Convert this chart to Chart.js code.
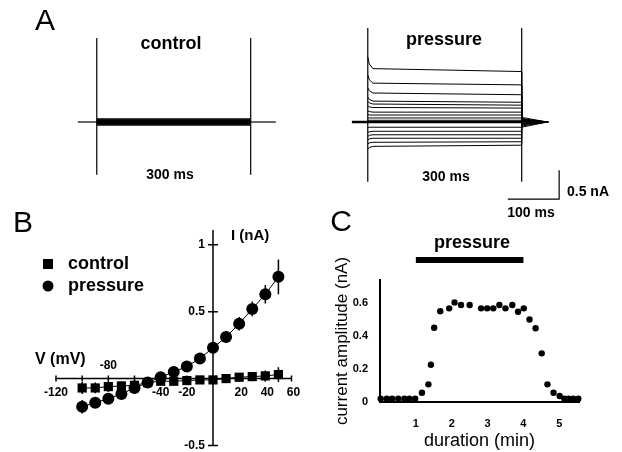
<!DOCTYPE html>
<html>
<head>
<meta charset="utf-8">
<script src="https://cdn.jsdelivr.net/npm/chart.js@4/dist/chart.umd.min.js"></script>
<style>
  html, body { margin: 0; padding: 0; background: #fff; }
  #fig { position: relative; width: 622px; height: 452px; overflow: hidden; background: #fff; }
  #fig canvas { position: absolute; left: 0; top: 0; }
</style>
</head>
<body>
<div id="fig">
  <canvas id="a-control" width="622" height="452"></canvas>
  <canvas id="a-pressure" width="622" height="452"></canvas>
  <canvas id="b-iv" width="622" height="452"></canvas>
  <canvas id="c-time" width="622" height="452"></canvas>
</div>
<script>
'use strict';

// ─── Panel A: current traces (time in ms, current in nA) ─────
const stepOn = 0;
const stepOff = 300;
const controlHold = [-37, 349];
const pressureHold = [-31, 353];
const controlLevels = [0.05, 0.035, 0.02, 0.01, 0, -0.01, -0.02, -0.035, -0.05];
const controlArtifact = [1.45, -0.91];
const pressureOnset  = [1.12, 0.81, 0.59, 0.43, 0.36, 0.28, 0.19, 0.13, 0.07, 0.03, 0, -0.10, -0.18, -0.25, -0.31, -0.38, -0.47];
const pressureAt3ms  = [1.00, 0.73, 0.54, 0.39, 0.33, 0.26, 0.18, 0.12, 0.07, 0.03, 0, -0.09, -0.17, -0.23, -0.29, -0.36, -0.44];
const pressureAt10ms = [0.92, 0.67, 0.50, 0.36, 0.31, 0.25, 0.17, 0.12, 0.07, 0.03, 0, -0.09, -0.16, -0.22, -0.28, -0.35, -0.42];
const pressureSteady = [0.87, 0.64, 0.47, 0.34, 0.29, 0.24, 0.17, 0.12, 0.07, 0.03, 0, -0.09, -0.16, -0.22, -0.28, -0.34, -0.40];
const pressureTail   = [0.08, 0.06, 0.05, 0.04, 0.03, 0.03, 0.02, 0.02, 0.01, 0.005, 0, -0.02, -0.03, -0.04, -0.05, -0.07, -0.09];
const pressureArtifact = [1.62, -1.03];
const scaleBarMs = [273, 373];
const scaleBarNa = [-1.33, -0.83];

// ─── Panel B: I–V relation ────────────────────────────────────
const ivVoltage = [-100, -90, -80, -70, -60, -50, -40, -30, -20, -10, 0, 10, 20, 30, 40, 50];
const ivControl = [-0.07, -0.07, -0.06, -0.055, -0.05, -0.03, -0.02, -0.02, -0.015, -0.01, -0.01, 0, 0.01, 0.015, 0.02, 0.03];
const ivControlErr = [0.045, 0.04, 0.04, 0.035, 0.035, 0.02, 0.02, 0.02, 0.02, 0.02, 0.02, 0.025, 0.03, 0.035, 0.04, 0.055];
const ivPressure = [-0.21, -0.18, -0.15, -0.115, -0.07, -0.03, 0.01, 0.05, 0.09, 0.15, 0.23, 0.31, 0.41, 0.52, 0.63, 0.76];
const ivPressureErr = [0.05, 0.04, 0.03, 0.04, 0.03, 0.02, 0.03, 0.03, 0.03, 0.03, 0.035, 0.045, 0.05, 0.055, 0.07, 0.13];
const ivXLabels = [-120, -80, -40, -20, 20, 40, 60];
const ivXMarks = [-120, -100, -80, -60, -40, -20, 20, 40, 60];
const ivYTicks = [1, 0.5, -0.5];

// ─── Panel C: time course ─────────────────────────────────────
const timeMin = [0.02, 0.19, 0.34, 0.51, 0.68, 0.82, 0.98, 1.17, 1.35, 1.42, 1.51, 1.68, 1.93, 2.08, 2.26, 2.50,
                 2.82, 2.99, 3.16, 3.33, 3.50, 3.69, 3.85, 4.01, 4.17, 4.34, 4.51, 4.67, 4.84, 5.01, 5.14, 5.26, 5.39, 5.53];
const amplitude = [0.02, 0.02, 0.02, 0.02, 0.02, 0.02, 0.02, 0.056, 0.107, 0.226, 0.45, 0.55, 0.568, 0.604, 0.588, 0.588,
                   0.568, 0.568, 0.568, 0.588, 0.568, 0.588, 0.547, 0.568, 0.50, 0.447, 0.295, 0.107, 0.056, 0.036, 0.02, 0.02, 0.02, 0.02];
const pressureOn = [1, 4];

const FONT = '"Liberation Sans", Arial, sans-serif';
Chart.defaults.font.family = FONT;
Chart.defaults.color = '#000';

function text(ctx, str, x, y, font, align) {
  ctx.font = font;
  ctx.textAlign = align || 'center';
  ctx.textBaseline = 'middle';
  ctx.fillStyle = '#000';
  ctx.fillText(str, x, y);
}

const baseOpts = (pad, xr, yr) => ({
  responsive: false,
  animation: false,
  events: [],
  layout: { padding: pad },
  scales: {
    x: { type: 'linear', display: false, min: xr[0], max: xr[1] },
    y: { type: 'linear', display: false, min: yr[0], max: yr[1] },
  },
  plugins: { legend: { display: false }, tooltip: { enabled: false } },
});

const line = (data, w) => ({
  data, borderColor: '#000', borderWidth: w || 1, pointRadius: 0, fill: false, tension: 0, clip: false,
});

// ─── A: control ───────────────────────────────────────────────
const controlSets = controlLevels.map(v => line([{ x: stepOn, y: v }, { x: stepOff, y: v }], 1.5));
controlSets.push(line([{ x: controlHold[0], y: 0 }, { x: stepOn, y: 0 }], 1.2));
controlSets.push(line([{ x: stepOff, y: 0 }, { x: controlHold[1], y: 0 }], 1.2));
controlSets.push(line([{ x: stepOn, y: controlArtifact[0] }, { x: stepOn, y: controlArtifact[1] }], 1.2));
controlSets.push(line([{ x: stepOff, y: controlArtifact[0] }, { x: stepOff, y: controlArtifact[1] }], 1.2));

new Chart(document.getElementById('a-control'), {
  type: 'line',
  data: { datasets: controlSets },
  options: baseOpts({ left: 66, right: 320, top: 6, bottom: 243 }, [-60, 400], [-1.5, 2.0]),
  plugins: [{
    id: 'aControlText',
    afterDraw(chart) {
      const c = chart.ctx;
      text(c, 'A', 45, 22, '30px ' + FONT);
      text(c, 'control', 171, 44, 'bold 18px ' + FONT);
      text(c, '300 ms', 170, 175, 'bold 14px ' + FONT);
    },
  }],
});

// ─── A: pressure ──────────────────────────────────────────────
const pressureSets = pressureSteady.map((v, i) => line([
  { x: stepOn, y: pressureOnset[i] },
  { x: 3, y: pressureAt3ms[i] },
  { x: 10, y: pressureAt10ms[i] },
  { x: stepOff, y: v },
  { x: stepOff, y: pressureTail[i] },
  { x: 350, y: 0 },
]));
pressureSets.push(line([{ x: pressureHold[0], y: 0 }, { x: stepOn, y: 0 }], 2.5));
pressureSets.push(line([{ x: stepOn, y: 0 }, { x: stepOff, y: 0 }], 2.5));
pressureSets.push(line([{ x: stepOff, y: 0 }, { x: pressureHold[1], y: 0 }], 1.5));
pressureSets.push(line([{ x: stepOn, y: pressureArtifact[0] }, { x: stepOn, y: pressureArtifact[1] }], 1.2));
pressureSets.push(line([{ x: stepOff, y: pressureArtifact[0] }, { x: stepOff, y: pressureArtifact[1] }], 1.2));
pressureSets.push(line([
  { x: scaleBarMs[0], y: scaleBarNa[0] },
  { x: scaleBarMs[1], y: scaleBarNa[0] },
  { x: scaleBarMs[1], y: scaleBarNa[1] },
], 1.2));

new Chart(document.getElementById('a-pressure'), {
  type: 'line',
  data: { datasets: pressureSets },
  options: baseOpts({ left: 337, right: 49, top: 6, bottom: 243 }, [-60, 400], [-1.5, 2.0]),
  plugins: [{
    id: 'aPressureText',
    afterDraw(chart) {
      const c = chart.ctx;
      text(c, 'pressure', 444, 40, 'bold 18px ' + FONT);
      text(c, '300 ms', 446, 177, 'bold 14px ' + FONT);
      text(c, '0.5 nA', 567, 192, 'bold 14px ' + FONT, 'left');
      text(c, '100 ms', 531, 213, 'bold 14px ' + FONT);
    },
  }],
});

// ─── B: I–V plot ──────────────────────────────────────────────
const ivPlugin = {
  id: 'ivAxes',
  beforeDatasetsDraw(chart) {
    const { ctx: c, scales: { x, y } } = chart;
    const x0 = x.getPixelForValue(0), y0 = y.getPixelForValue(0);
    c.save();
    c.strokeStyle = '#000';
    c.lineWidth = 1.5;
    c.beginPath();
    c.moveTo(x.getPixelForValue(-120), y0); c.lineTo(x.getPixelForValue(60), y0);
    c.moveTo(x0, y.getPixelForValue(-0.5)); c.lineTo(x0, y.getPixelForValue(1.11));
    ivYTicks.forEach(v => { const p = y.getPixelForValue(v); c.moveTo(x0 - 5, p); c.lineTo(x0 + 5, p); });
    ivXMarks.forEach(v => { const p = x.getPixelForValue(v); c.moveTo(p, y0 - 3); c.lineTo(p, y0 + 3); });
    c.stroke();
    // error bars
    c.lineWidth = 1.5;
    c.beginPath();
    [[ivControl, ivControlErr], [ivPressure, ivPressureErr]].forEach(([vals, errs]) => {
      ivVoltage.forEach((v, i) => {
        const px = x.getPixelForValue(v);
        c.moveTo(px, y.getPixelForValue(vals[i] - errs[i]));
        c.lineTo(px, y.getPixelForValue(vals[i] + errs[i]));
      });
    });
    c.stroke();
    c.restore();
  },
  afterDraw(chart) {
    const { ctx: c, scales: { x, y } } = chart;
    const x0 = x.getPixelForValue(0), y0 = y.getPixelForValue(0);
    text(c, 'B', 23, 224, '30px ' + FONT);
    c.fillStyle = '#000';
    c.fillRect(43, 259, 10, 10);
    c.beginPath(); c.arc(48, 286, 5.5, 0, Math.PI * 2); c.fill();
    text(c, 'control', 68, 264, 'bold 18px ' + FONT, 'left');
    text(c, 'pressure', 68, 286, 'bold 18px ' + FONT, 'left');
    text(c, 'I (nA)', 231, 236, 'bold 15px ' + FONT, 'left');
    text(c, 'V (mV)', 35, 360, 'bold 16px ' + FONT, 'left');
    ivYTicks.forEach(v => text(c, String(v), x0 - 8, y.getPixelForValue(v), 'bold 12px ' + FONT, 'right'));
    ivXLabels.forEach(v => {
      const above = v === -80;
      text(c, String(v), x.getPixelForValue(v) + (v > 0 ? 2 : 0), y0 + (above ? -13 : 14), 'bold 12px ' + FONT);
    });
  },
};

new Chart(document.getElementById('b-iv'), {
  type: 'line',
  data: {
    datasets: [
      {
        label: 'control',
        data: ivVoltage.map((v, i) => ({ x: v, y: ivControl[i] })),
        borderColor: '#000', borderWidth: 1, tension: 0, clip: false,
        pointStyle: 'rect', pointRadius: 6.5, pointBackgroundColor: '#000', pointBorderWidth: 0,
      },
      {
        label: 'pressure',
        data: ivVoltage.map((v, i) => ({ x: v, y: ivPressure[i] })),
        borderColor: '#000', borderWidth: 1, tension: 0, clip: false,
        pointStyle: 'circle', pointRadius: 6, pointBackgroundColor: '#000', pointBorderWidth: 0,
      },
    ],
  },
  options: baseOpts({ left: 56, right: 330.5, top: 230, bottom: 6.5 }, [-120, 60], [-0.5, 1.11]),
  plugins: [ivPlugin],
});

// ─── C: amplitude vs time ─────────────────────────────────────
new Chart(document.getElementById('c-time'), {
  type: 'scatter',
  data: {
    datasets: [{
      data: timeMin.map((t, i) => ({ x: t, y: amplitude[i] })),
      pointRadius: 3.2, pointBackgroundColor: '#000', pointBorderWidth: 0, clip: false,
    }],
  },
  options: {
    responsive: false,
    animation: false,
    events: [],
    layout: { padding: { left: 332, right: 43, top: 280, bottom: 0 } },
    scales: {
      x: {
        type: 'linear', min: 0, max: 5.55,
        afterFit: s => { s.height = 50; },
        grid: { display: false },
        border: { display: true, color: '#000', width: 2 },
        ticks: {
          stepSize: 1, includeBounds: false, autoSkip: false, maxRotation: 0, padding: 7,
          font: { size: 11, weight: 'bold' }, color: '#000',
          callback: v => (v === 0 ? '' : String(v)),
        },
        title: { display: true, text: 'duration (min)', font: { size: 18 }, color: '#000', padding: { top: 0, bottom: 0 } },
      },
      y: {
        type: 'linear', min: 0, max: 0.74,
        afterFit: s => { s.width = 48; },
        grid: { display: false },
        border: { display: true, color: '#000', width: 2 },
        ticks: {
          stepSize: 0.2, includeBounds: false, padding: 4,
          font: { size: 11, weight: 'bold' }, color: '#000',
          callback: v => (v === 0 ? '0' : v.toFixed(1)),
        },
        title: { display: true, text: 'current amplitude (nA)', font: { size: 17 }, color: '#000', padding: { top: 0, bottom: 0 } },
      },
    },
    plugins: { legend: { display: false }, tooltip: { enabled: false } },
  },
  plugins: [{
    id: 'pressureBar',
    afterDraw(chart) {
      const { ctx: c, scales: { x } } = chart;
      text(c, 'C', 341, 223, '30px ' + FONT);
      c.save();
      c.strokeStyle = '#000';
      c.lineWidth = 6;
      c.beginPath();
      c.moveTo(x.getPixelForValue(pressureOn[0]), 260);
      c.lineTo(x.getPixelForValue(pressureOn[1]), 260);
      c.stroke();
      c.restore();
      text(c, 'pressure', 472, 243, 'bold 18px ' + FONT);
    },
  }],
});
</script>
</body>
</html>
